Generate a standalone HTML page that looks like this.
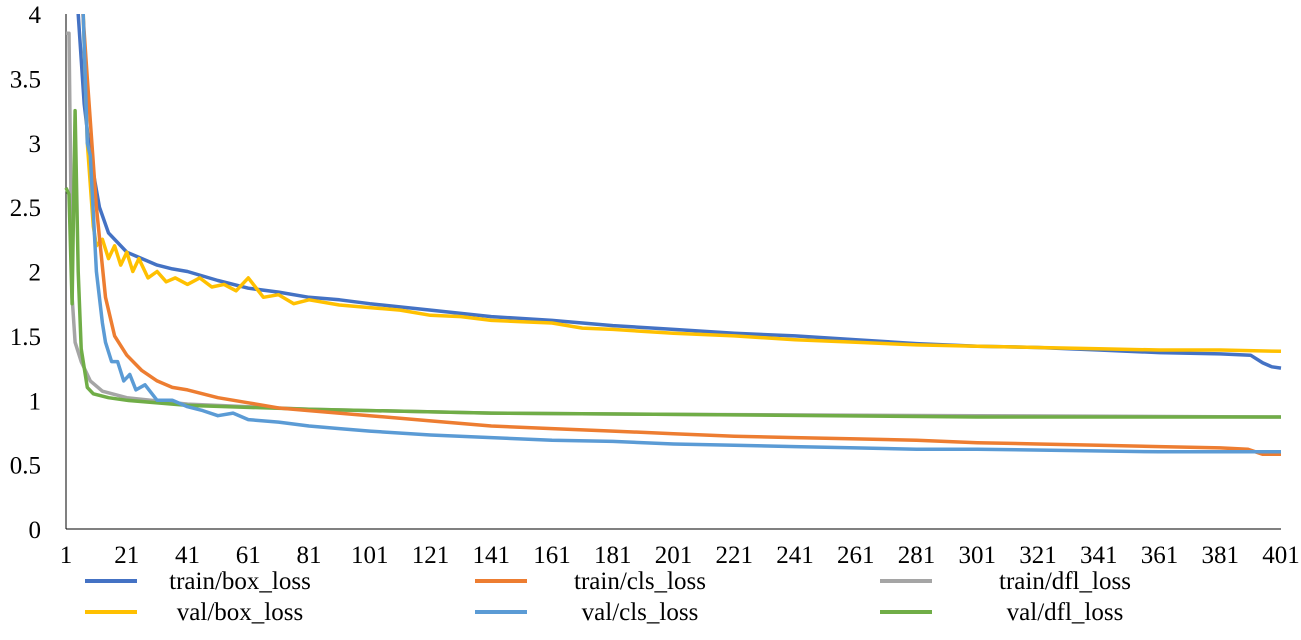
<!DOCTYPE html>
<html><head><meta charset="utf-8"><style>
html,body{margin:0;padding:0;background:#fff;}
svg text{font-family:"Liberation Serif",serif;fill:#000;}
</style></head><body>
<svg id="chart" width="1301" height="635" viewBox="0 0 1301 635" xmlns="http://www.w3.org/2000/svg">
<defs><clipPath id="plot"><rect x="64" y="14" width="1222" height="520"/></clipPath></defs>
<g id="yticks"></g>
<g id="xticks"></g>
<g id="series" clip-path="url(#plot)"></g>
<g id="legend"></g>
</svg>
<script>
const yTicks=[0,0.5,1,1.5,2,2.5,3,3.5,4];
const xTicks=[1,21,41,61,81,101,121,141,161,181,201,221,241,261,281,301,321,341,361,381,401];
const names=["train/box_loss","train/cls_loss","train/dfl_loss","val/box_loss","val/cls_loss","val/dfl_loss"];
const colors=["#4472C4","#ED7D31","#A5A5A5","#FFC000","#5B9BD5","#70AD47"];
const epTrainBox=[1,5,7,9,12,15,21,26,31,36,41,51,61,71,81,91,101,121,141,161,181,201,221,241,261,281,301,321,341,361,381,391,395,398,401];
const trainBox=[6,4.0,3.3,2.9,2.5,2.3,2.15,2.1,2.05,2.02,2.0,1.93,1.87,1.84,1.8,1.78,1.75,1.7,1.65,1.62,1.58,1.55,1.52,1.5,1.47,1.44,1.42,1.41,1.39,1.37,1.36,1.35,1.29,1.26,1.25];
const epValBox=[1,6,8,10,11,13,15,17,19,21,23,25,28,31,34,37,41,45,49,53,57,61,66,71,76,81,91,101,111,121,131,141,151,161,171,181,201,221,241,261,281,301,321,341,361,381,401];
const valBox=[6,4.5,3,2.35,2.2,2.25,2.1,2.2,2.05,2.15,2.0,2.1,1.95,2.0,1.92,1.95,1.9,1.95,1.88,1.9,1.85,1.95,1.8,1.82,1.75,1.78,1.74,1.72,1.7,1.66,1.65,1.62,1.61,1.6,1.56,1.55,1.52,1.5,1.47,1.45,1.43,1.42,1.41,1.4,1.39,1.39,1.38];
const epTrainCls=[1,6,8,11,14,17,21,26,31,36,41,51,61,71,81,101,121,141,161,181,201,221,241,261,281,301,321,341,361,381,390,395,401];
const trainCls=[6,4.2,3.5,2.5,1.8,1.5,1.35,1.23,1.15,1.1,1.08,1.02,0.98,0.94,0.92,0.88,0.84,0.8,0.78,0.76,0.74,0.72,0.71,0.7,0.69,0.67,0.66,0.65,0.64,0.63,0.62,0.58,0.58];
const epValCls=[1,6,8,9,11,13,14,16,18,20,22,24,27,31,36,41,46,51,56,61,71,81,91,101,121,141,161,181,201,221,241,261,281,301,331,361,401];
const valCls=[6,4.5,3.0,2.9,2.0,1.6,1.45,1.3,1.3,1.15,1.2,1.08,1.12,1.0,1.0,0.95,0.92,0.88,0.9,0.85,0.83,0.8,0.78,0.76,0.73,0.71,0.69,0.68,0.66,0.65,0.64,0.63,0.62,0.62,0.61,0.6,0.6];
const epTrainDfl=[1,2,3,4,6,9,13,21,41,81,141,201,301,401];
const trainDfl=[3.85,3.85,1.8,1.45,1.3,1.15,1.07,1.02,0.97,0.93,0.9,0.89,0.88,0.87];
const epValDfl=[1,2,3,4,5,6,8,10,15,21,41,81,141,201,301,401];
const valDfl=[2.65,2.6,1.75,3.25,2.0,1.4,1.1,1.05,1.02,1.0,0.96,0.93,0.9,0.89,0.87,0.87];
const xs=[epTrainBox,epTrainCls,epTrainDfl,epValBox,epValCls,epValDfl];
const ys=[trainBox,trainCls,trainDfl,valBox,valCls,valDfl];
const X0=66,X1=1281,Y0=529,Y1=14;
const xScale=e=>X0+(e-1)/400*(X1-X0);
const yScale=v=>Y0-v/4*(Y0-Y1);
const NS="http://www.w3.org/2000/svg";
function mk(tag,attrs,parent){const el=document.createElementNS(NS,tag);for(const k in attrs)el.setAttribute(k,attrs[k]);parent.appendChild(el);return el;}
const yg=document.getElementById('yticks'),xg=document.getElementById('xticks'),sg=document.getElementById('series'),lg=document.getElementById('legend');
mk('line',{x1:X0,y1:Y1,x2:X0,y2:Y0,stroke:'#000','stroke-width':1},yg);
mk('line',{x1:X0,y1:Y0,x2:X1,y2:Y0,stroke:'#000','stroke-width':1},xg);
yTicks.forEach(v=>{const t=mk('text',{x:41,y:yScale(v)+9,'text-anchor':'end','font-size':25},yg);t.textContent=String(v);

});
xTicks.forEach(v=>{const t=mk('text',{x:xScale(v),y:563,'text-anchor':'middle','font-size':25},xg);t.textContent=String(v);

});
const order=[2,5,0,3,1,4];
order.forEach(i=>{const d=xs[i].map((e,j)=>(j?'L':'M')+xScale(e).toFixed(1)+','+yScale(ys[i][j]).toFixed(1)).join(' ');
const p=mk('path',{d:d,fill:'none',stroke:colors[i],'stroke-width':3.5,'stroke-linejoin':'round'},sg);

});
const lx=[85,475,880],ly=[581,612],tx=[240,640,1065];
names.forEach((n,i)=>{const c=i%3,r=Math.floor(i/3);
const g=mk('g',{},lg);


mk('line',{x1:lx[c],y1:ly[r],x2:lx[c]+52,y2:ly[r],stroke:colors[i],'stroke-width':4},g);
const t=mk('text',{x:tx[c],y:ly[r]+8,'text-anchor':'middle','font-size':25},g);t.textContent=n;});
</script>
</body></html>
